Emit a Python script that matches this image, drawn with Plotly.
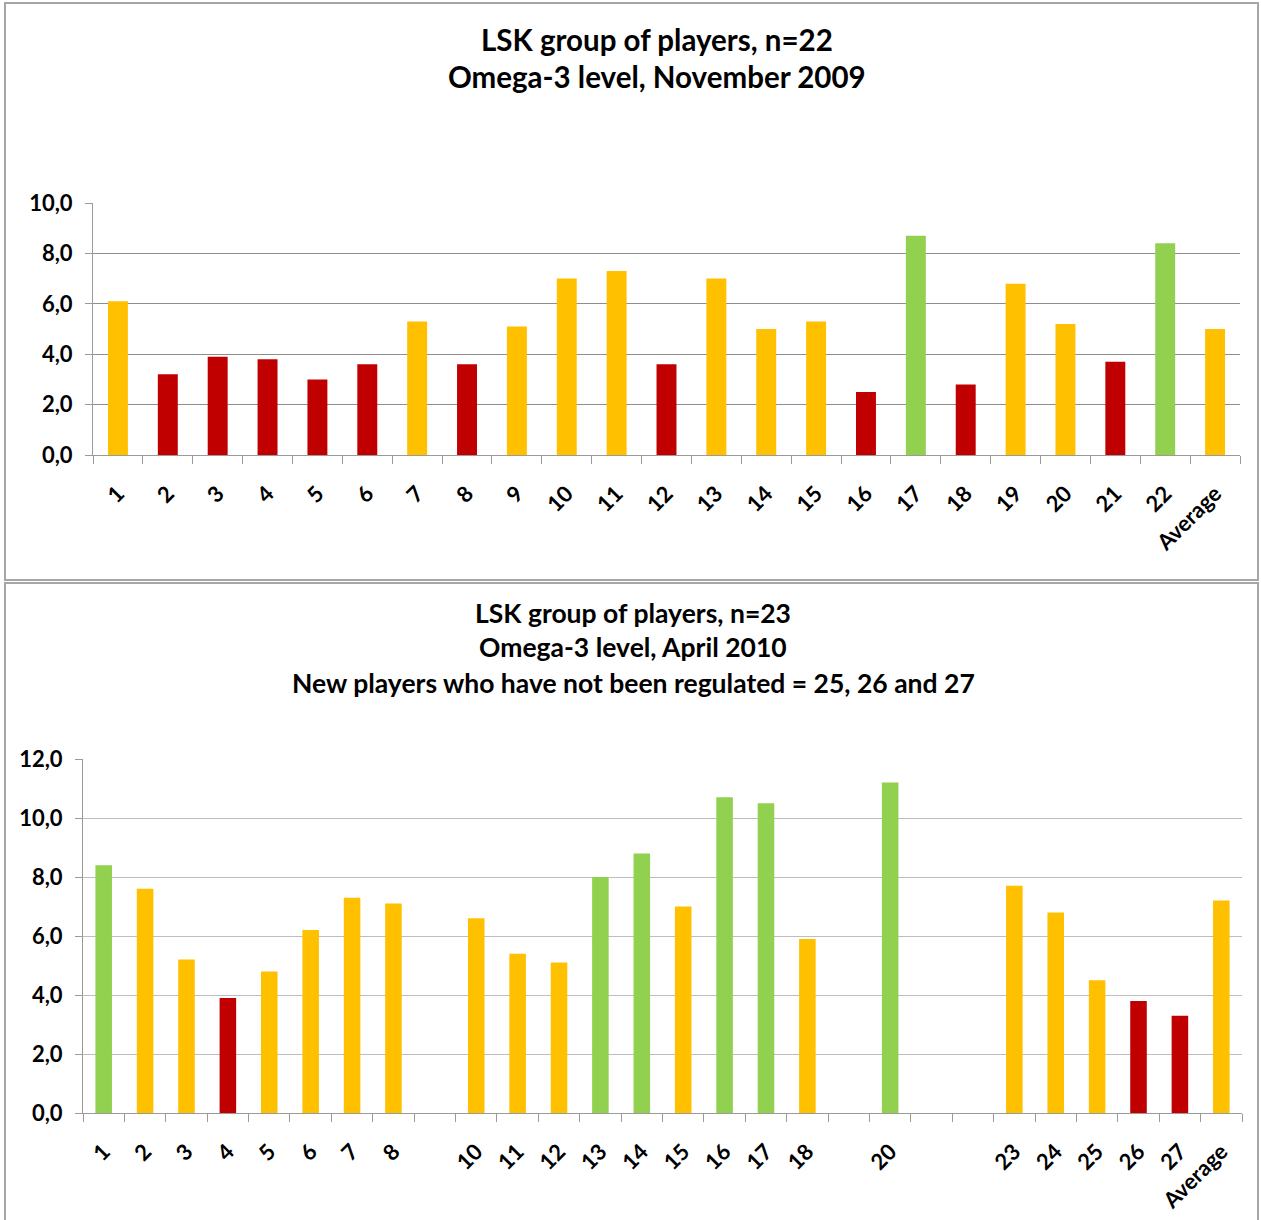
import plotly.graph_objects as go

# --- November 2009 (n=22) ---
nov_players = [str(i) for i in range(1, 23)] + ["Average"]
nov_values = [6.1, 3.2, 3.9, 3.8, 3.0, 3.6, 5.3, 3.6, 5.1, 7.0, 7.3,
              3.6, 7.0, 5.0, 5.3, 2.5, 8.7, 2.8, 6.8, 5.2, 3.7, 8.4, 5.0]
nov_levels = ["mid", "low", "low", "low", "low", "low", "mid", "low", "mid", "mid", "mid",
              "low", "mid", "mid", "mid", "low", "high", "low", "mid", "mid", "low", "high", "mid"]

# --- April 2010 (n=23); slots 9, 19, 21, 22 are empty ---
apr_players = ["1", "2", "3", "4", "5", "6", "7", "8", "10", "11", "12", "13", "14",
               "15", "16", "17", "18", "20", "23", "24", "25", "26", "27", "Average"]
apr_values = [8.4, 7.6, 5.2, 3.9, 4.8, 6.2, 7.3, 7.1, 6.6, 5.4, 5.1, 8.0, 8.8,
              7.0, 10.7, 10.5, 5.9, 11.2, 7.7, 6.8, 4.5, 3.8, 3.3, 7.2]
apr_levels = ["high", "mid", "mid", "low", "mid", "mid", "mid", "mid", "mid", "mid", "mid", "high", "high",
              "mid", "high", "high", "mid", "high", "mid", "mid", "mid", "low", "low", "mid"]

level_colors = {"low": "#C00000", "mid": "#FFC000", "high": "#92D050"}

W, H = 1261, 1220
FONT = "Lato"


def px_x(p):
    return p / W


def px_y(p):
    return 1 - p / H


def slot(label, avg_slot):
    return avg_slot if label == "Average" else int(label)


nov_avg_slot = 23
apr_avg_slot = 28
nov_x = [slot(p, nov_avg_slot) for p in nov_players]
apr_x = [slot(p, apr_avg_slot) for p in apr_players]

fig = go.Figure()
fig.add_trace(go.Bar(
    x=nov_x, y=nov_values, width=0.4,
    marker=dict(color=[level_colors[l] for l in nov_levels], line=dict(width=0)),
    xaxis="x", yaxis="y", showlegend=False,
))
fig.add_trace(go.Bar(
    x=apr_x, y=apr_values, width=0.4,
    marker=dict(color=[level_colors[l] for l in apr_levels], line=dict(width=0)),
    xaxis="x2", yaxis="y2", showlegend=False,
))

tick_font = dict(family=FONT, size=22, color="#000000", weight="bold")
axis_grey = "#9a9a9a"

common_x = dict(
    showgrid=False, showline=True, linecolor=axis_grey, linewidth=1,
    ticks="", tickangle=-45, tickfont=tick_font, zeroline=False, automargin=False,
    ticklabelstandoff=16,
    minor=dict(ticks="outside", ticklen=8, tickcolor=axis_grey, tick0=0.5, dtick=1, showgrid=False),
)
common_y = dict(
    showgrid=True, gridcolor="#8e8e8e", gridwidth=1, showline=True, linecolor=axis_grey,
    ticks="outside", ticklen=7, tickcolor=axis_grey, tickformat=".1f", dtick=2,
    tickfont=tick_font, zeroline=False, automargin=False, ticklabelstandoff=8,
)

fig.update_layout(
    width=W, height=H, margin=dict(l=0, r=0, t=0, b=0, autoexpand=False),
    paper_bgcolor="white", plot_bgcolor="white", separators=", ",
    bargap=0.6,
    xaxis=dict(common_x, domain=[px_x(93), px_x(1240)], range=[0.5, 23.5],
               tickmode="array", tickvals=nov_x, ticktext=nov_players, anchor="y"),
    yaxis=dict(common_y, domain=[px_y(455), px_y(203)], range=[0, 10], anchor="x"),
    xaxis2=dict(common_x, domain=[px_x(83), px_x(1242)], range=[0.5, 28.5],
                tickmode="array", tickvals=apr_x, ticktext=apr_players, anchor="y2"),
    yaxis2=dict(common_y, domain=[px_y(1113), px_y(759)], range=[0, 12], anchor="x2",
                gridcolor="#bdbdbd"),
)

# panel frames
for y0, y1 in [(3, 580), (583, 1225)]:
    fig.add_shape(type="rect", xref="paper", yref="paper",
                  x0=px_x(5), x1=px_x(1258), y0=px_y(y1), y1=px_y(y0),
                  line=dict(color="#a6a6a6", width=2), fillcolor="rgba(0,0,0,0)", layer="below")

# titles: (text, centre x, centre y, size)
title_lines = [
    ("LSK group of players, n=22", 657, 39, 29.5),
    ("Omega-3 level, November 2009", 657, 77, 29.5),
    ("LSK group of players, n=23", 633, 613, 26.5),
    ("Omega-3 level, April 2010", 633, 647, 26.5),
    ("New players who have not been regulated = 25, 26 and 27", 633, 683, 26.5),
]
for text, xc, yc, size in title_lines:
    fig.add_annotation(text=text, xref="paper", yref="paper", x=px_x(xc), y=px_y(yc),
                       xanchor="center", yanchor="middle", showarrow=False,
                       font=dict(family=FONT, size=size, color="#000000", weight="bold"))

fig.write_html("out.html")
